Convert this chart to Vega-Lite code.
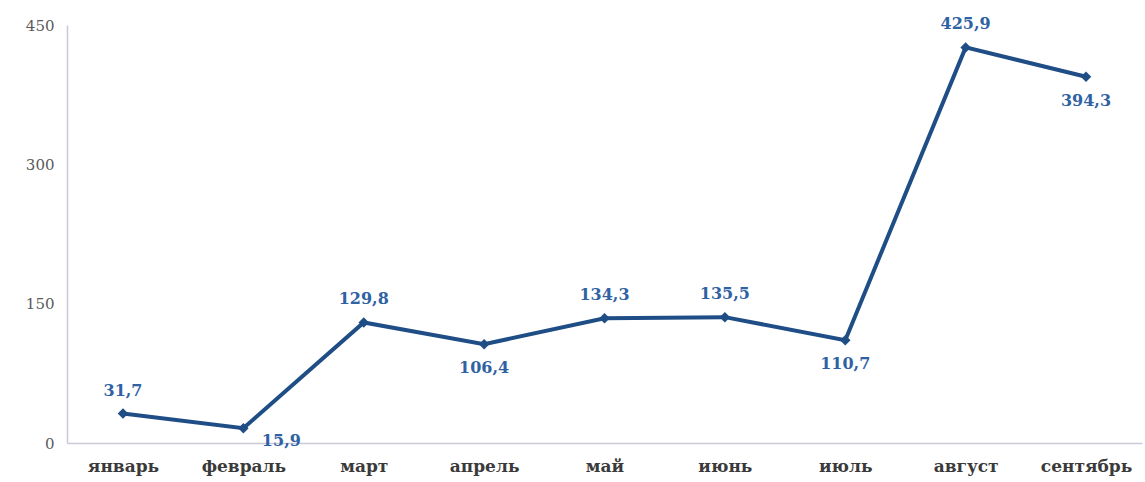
{
  "$schema": "https://vega.github.io/schema/vega-lite/v6.json",
  "autosize": {"type": "none"},
  "width": 1075,
  "height": 418,
  "padding": {"left": 67, "top": 25, "right": 3, "bottom": 39},
  "background": "white",
  "config": {
    "view": {"stroke": null},
    "locale": {"number": {"decimal": ",", "thousands": " ", "grouping": [3], "currency": ["", ""]}}
  },
  "data": {
    "values": [
      {"month": "январь", "value": 31.7},
      {"month": "февраль", "value": 15.9},
      {"month": "март", "value": 129.8},
      {"month": "апрель", "value": 106.4},
      {"month": "май", "value": 134.3},
      {"month": "июнь", "value": 135.5},
      {"month": "июль", "value": 110.7},
      {"month": "август", "value": 425.9},
      {"month": "сентябрь", "value": 394.3}
    ]
  },
  "encoding": {
    "x": {
      "field": "month", "type": "nominal", "sort": null,
      "scale": {"type": "point", "padding": 0.465},
      "axis": {
        "title": null, "labelAngle": 0, "ticks": false, "domain": true,
        "domainColor": "#c9c9d9", "domainWidth": 1.5,
        "labelFont": "DejaVu Serif", "labelFontSize": 17, "labelFontWeight": "bold",
        "labelColor": "#3a3a3a", "labelPadding": 15
      }
    },
    "y": {
      "field": "value", "type": "quantitative",
      "scale": {"domain": [0, 450], "nice": false},
      "axis": {
        "title": null, "values": [0, 150, 300, 450], "ticks": false, "grid": false,
        "domainColor": "#c9c9d9", "domainWidth": 1.5,
        "labelFont": "DejaVu Serif", "labelFontSize": 15, "labelColor": "#5a5a5a",
        "labelPadding": 13
      }
    }
  },
  "layer": [
    {"mark": {"type": "line", "color": "#1f4d86", "strokeWidth": 4}},
    {"mark": {"type": "point", "shape": "diamond", "filled": true, "color": "#1f4d86", "size": 110, "opacity": 1}},
    {
      "transform": [{"filter": {"field": "month", "oneOf": ["январь", "март", "май", "июнь", "август"]}}],
      "mark": {"type": "text", "dy": -23, "font": "DejaVu Serif", "fontSize": 16, "fontWeight": "bold", "color": "#2f62a3"},
      "encoding": {"text": {"field": "value", "type": "quantitative", "format": ".1f"}}
    },
    {
      "transform": [{"filter": {"field": "month", "oneOf": ["апрель", "июль", "сентябрь"]}}],
      "mark": {"type": "text", "dy": 24, "font": "DejaVu Serif", "fontSize": 16, "fontWeight": "bold", "color": "#2f62a3"},
      "encoding": {"text": {"field": "value", "type": "quantitative", "format": ".1f"}}
    },
    {
      "transform": [{"filter": {"field": "month", "oneOf": ["февраль"]}}],
      "mark": {"type": "text", "dx": 38, "dy": 13, "font": "DejaVu Serif", "fontSize": 16, "fontWeight": "bold", "color": "#2f62a3"},
      "encoding": {"text": {"field": "value", "type": "quantitative", "format": ".1f"}}
    }
  ]
}
